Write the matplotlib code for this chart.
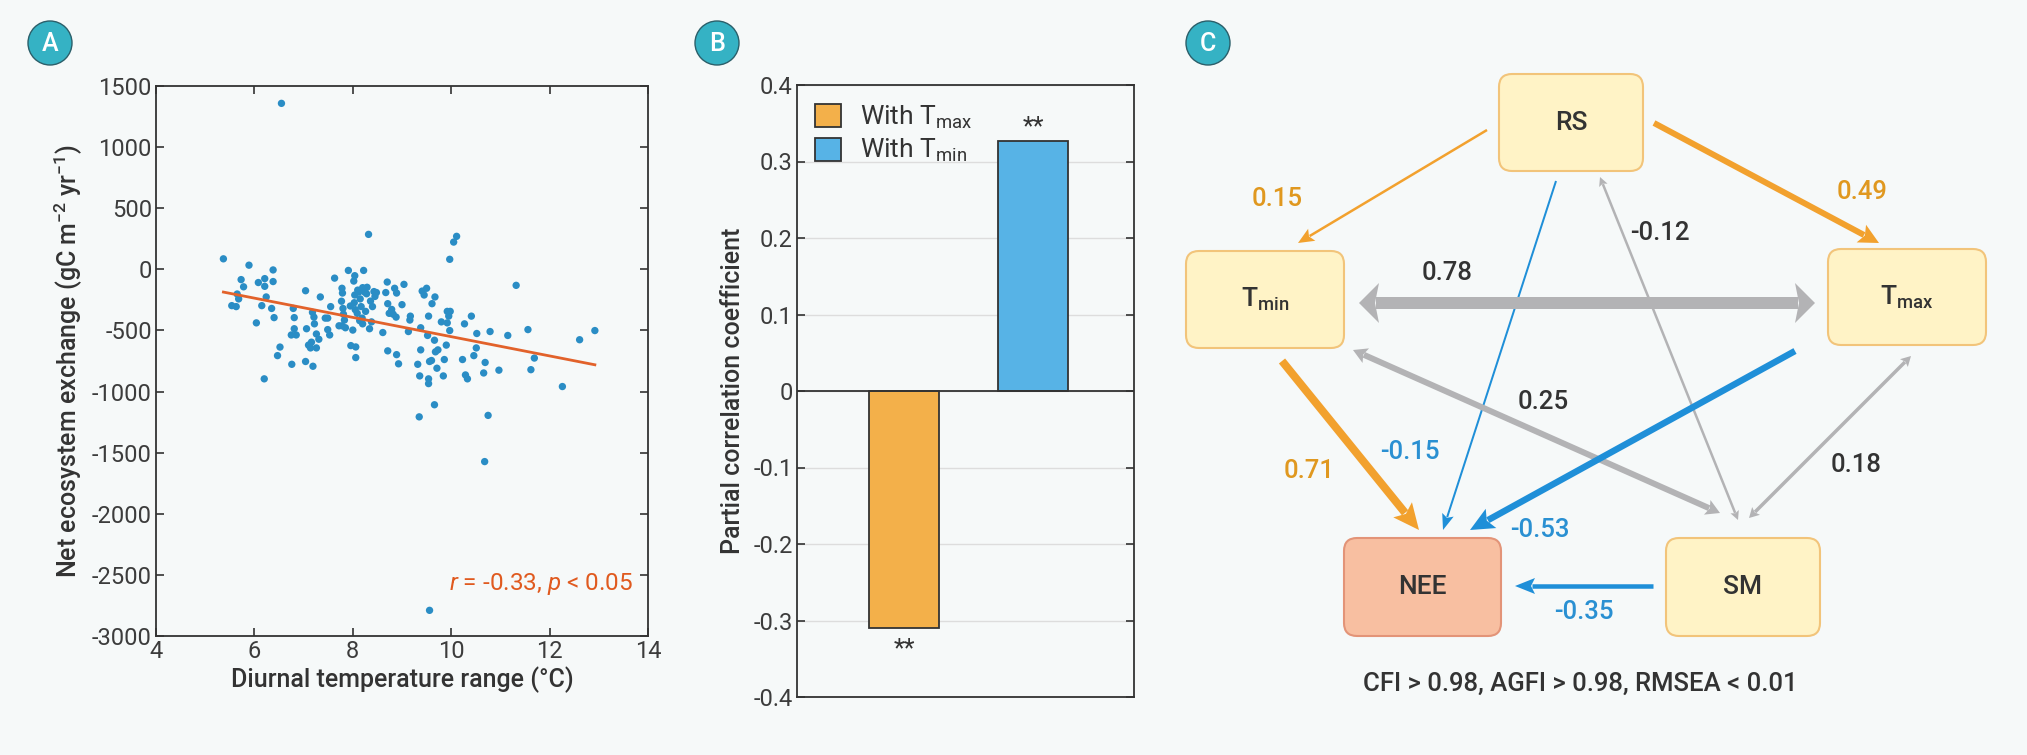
import numpy as np
import matplotlib
matplotlib.use("Agg")
import matplotlib.pyplot as plt
from matplotlib.patches import FancyBboxPatch, Circle

plt.rcParams['font.family'] = ['Roboto', 'DejaVu Sans']
plt.rcParams['mathtext.fontset'] = 'custom'
plt.rcParams['mathtext.rm'] = 'Roboto'
plt.rcParams['mathtext.it'] = 'Roboto:italic'
plt.rcParams['mathtext.default'] = 'regular'
plt.rcParams['axes.unicode_minus'] = False

# ---------------- data ----------------
# Panel A: diurnal temperature range (°C) vs NEE (gC m-2 yr-1)
dtr = [5.37, 6.55, 5.89, 5.73, 5.78, 5.65, 5.68, 5.54, 5.63, 6.08, 6.21, 6.21, 6.38, 6.38, 6.24,
       6.15, 6.35, 6.40, 6.04, 6.20, 6.52, 6.47, 6.76, 6.79, 6.81, 6.81, 6.75, 6.85, 7.04, 7.06,
       7.04, 7.10, 7.14, 7.18, 7.21, 7.22, 7.19, 7.16, 7.26, 7.26, 7.31, 7.34, 7.44, 7.49, 7.49,
       7.53, 7.55, 7.63, 7.72, 7.78, 7.79, 7.77, 7.80, 7.81, 7.83, 7.78, 7.85, 7.91, 7.96, 8.00,
       8.02, 8.04, 8.03, 8.04, 8.06, 8.06, 8.09, 8.12, 8.15, 8.17, 8.19, 8.20, 8.22, 8.24, 8.26,
       8.29, 8.32, 8.34, 8.38, 8.40, 8.43, 8.45, 8.61, 8.67, 8.70, 8.71, 8.71, 8.74, 8.79, 8.82,
       8.85, 8.89, 8.88, 8.89, 8.93, 9.00, 9.04, 9.13, 9.16, 9.17, 9.32, 9.35, 9.36, 9.38, 9.38,
       9.41, 9.45, 9.50, 9.52, 9.54, 9.54, 9.54, 9.56, 9.60, 9.61, 9.56, 9.67, 9.66, 9.66, 9.68,
       9.71, 9.73, 9.80, 9.84, 9.86, 9.90, 9.92, 9.95, 9.97, 9.98, 9.92, 9.97, 10.05, 10.11, 10.23,
       10.27, 10.29, 10.33, 10.41, 10.46, 10.51, 10.52, 10.66, 10.69, 10.68, 10.75, 10.79, 10.97,
       11.15, 11.32, 11.56, 11.62, 11.69, 12.26, 12.61, 12.92,
       8.10, 8.28, 8.36, 8.05, 8.48, 8.20, 8.14, 7.95]
nee = [86, 1358, 34, -84, -143, -202, -242, -297, -305, -108, -76, -139, -5, -100, -226,
       -297, -320, -395, -438, -896, -636, -706, -777, -320, -395, -486, -537, -537, -175, -486,
       -754, -620, -643, -352, -391, -446, -793, -596, -529, -643, -572, -226, -399, -399, -493,
       -537, -305, -72, -462, -155, -194, -261, -320, -367, -415, -462, -478, -9, -624, -497,
       -96, -52, -273, -210, -635, -722, -360, -186, -242, -305, -399, -446, -9, -186, -344,
       -147, 286, -486, -430, -305, -182, -222, -517, -190, -104, -281, -667, -360, -328, -367,
       -155, -194, -391, -698, -773, -289, -123, -509, -415, -383, -777, -1207, -872, -659, -478,
       -178, -210, -155, -541, -383, -896, -935, -754, -746, -281, -2790, -226, -580, -1108, -675,
       -809, -659, -430, -872, -738, -620, -344, -383, 82, -344, -438, -501, 223, 270, -738,
       -446, -864, -896, -383, -706, -643, -525, -848, -762, -1573, -1195, -509, -825,
       -541, -131, -493, -821, -726, -959, -576, -501,
       -170, -200, -260, -330, -190, -150, -420, -300]
fit_x = [5.37, 12.92]
fit_y = [-186, -781]

# Panel B
bar_labels = ['With T$_{max}$', 'With T$_{min}$']
bar_values = [-0.31, 0.327]
bar_sig = ['**', '**']

# Panel C: structural equation model
nodes = ['RS', 'T$_{min}$', 'T$_{max}$', 'NEE', 'SM']
path_from = ['RS', 'RS', 'RS', 'RS', 'Tmin', 'Tmin', 'Tmax', 'Tmin', 'Tmax', 'SM']
path_to = ['Tmin', 'Tmax', 'NEE', 'SM', 'Tmax', 'SM', 'SM', 'NEE', 'NEE', 'NEE']
path_coef = [0.15, 0.49, -0.15, -0.12, 0.78, 0.25, 0.18, 0.71, -0.53, -0.35]
path_kind = ['dir', 'dir', 'dir', 'cor', 'cor', 'cor', 'cor', 'dir', 'dir', 'dir']
fit_text = 'CFI > 0.98, AGFI > 0.98, RMSEA < 0.01'

# ---------------- style ----------------
BG = '#f6f9f9'
TXT = '#333333'
TICK = '#3c3c3c'
W, H = 2027, 755

fig = plt.figure(figsize=(W / 100, H / 100), dpi=100, facecolor=BG)

def frac(l, t, r, b):
    return [l / W, 1 - b / H, (r - l) / W, (b - t) / H]

# ---------------- Panel A ----------------
axA = fig.add_axes(frac(156, 86, 648, 636))
axA.set_facecolor(BG)
axA.scatter(dtr, nee, s=28, color='#2a8dc5', edgecolors='none', zorder=3)
axA.plot(fit_x, fit_y, color='#e2622b', lw=2.0, zorder=4)
axA.set_xlim(4, 14)
axA.set_ylim(-3000, 1500)
axA.set_xticks([4, 6, 8, 10, 12, 14])
axA.set_yticks(np.arange(-3000, 1501, 500))
axA.tick_params(direction='in', length=6, width=1.2, top=True, right=True,
                labelsize=17, labelcolor=TICK, color='#333333', pad=3)
for s in axA.spines.values():
    s.set_color('#333333'); s.set_linewidth(1.3)
axA.set_xlabel('Diurnal temperature range (°C)', fontsize=18, color=TXT,
               fontweight='medium', labelpad=2)
axA.set_ylabel('Net ecosystem exchange (gC m$^{-2}$ yr$^{-1}$)', fontsize=18,
               color=TXT, fontweight='medium', labelpad=6)
axA.text(0.97, 0.095, r'$\mathit{r}$ = -0.33, $\mathit{p}$ < 0.05', transform=axA.transAxes,
         ha='right', va='center', fontsize=17.5, color='#e05a1f')

# ---------------- Panel B ----------------
axB = fig.add_axes(frac(797, 85, 1134, 697))
axB.set_facecolor(BG)
bar_x = [0, 1]
bar_colors = ['#f3b04a', '#57b3e6']
for i in range(2):
    axB.bar(bar_x[i], bar_values[i], width=0.54, color=bar_colors[i],
            edgecolor='#333333', linewidth=1.3, label=bar_labels[i], zorder=3)
axB.set_xlim(-0.83, 1.78)
axB.set_ylim(-0.4, 0.4)
axB.set_yticks(np.round(np.arange(-0.4, 0.41, 0.1), 1))
axB.set_yticklabels(['-0.4', '-0.3', '-0.2', '-0.1', '0', '0.1', '0.2', '0.3', '0.4'])
axB.set_xticks([])
axB.grid(axis='y', color='#dddddd', lw=1.0, zorder=0)
axB.axhline(0, color='#333333', lw=1.3, zorder=4)
axB.tick_params(axis='y', direction='in', length=6, width=1.2, right=True,
                labelsize=17, labelcolor=TICK, color='#333333', pad=3)
for s in axB.spines.values():
    s.set_color('#333333'); s.set_linewidth(1.3)
axB.set_ylabel('Partial correlation coefficient', fontsize=18, color=TXT,
               fontweight='medium', labelpad=6)
for i in range(2):
    v = bar_values[i]
    if v > 0:
        axB.text(bar_x[i], v + 0.002, bar_sig[i], ha='center', va='bottom',
                 fontsize=18, color=TXT)
    else:
        axB.text(bar_x[i], v - 0.012, bar_sig[i], ha='center', va='top',
                 fontsize=18, color=TXT)
leg = axB.legend(loc='upper left', frameon=False, fontsize=19, handlelength=0.95,
                 handleheight=0.95, borderaxespad=0.3, labelspacing=0.25,
                 handletextpad=0.75, bbox_to_anchor=(0.0, 1.0))
for t in leg.get_texts():
    t.set_color(TXT)
for p in leg.get_patches():
    p.set_linewidth(1.3)

# ---------------- overlay: panel C + letters ----------------
ov = fig.add_axes([0, 0, 1, 1])
ov.set_xlim(0, W); ov.set_ylim(H, 0)
ov.axis('off')
ov.patch.set_alpha(0)

for (cx, cy, letter) in [(50, 43, 'A'), (717, 43, 'B'), (1208, 43, 'C')]:
    ov.add_patch(Circle((cx, cy), 22, facecolor='#35b2c4', edgecolor='#2b5f6a', lw=1.0))
    ov.text(cx, cy + 1, letter, ha='center', va='center', color='white',
            fontsize=18, fontweight='medium')

box = {  # left, top, right, bottom (pixels)
    'RS': (1499, 74, 1643, 171),
    'Tmin': (1186, 251, 1344, 348),
    'Tmax': (1828, 249, 1986, 345),
    'NEE': (1344, 538, 1501, 636),
    'SM': (1666, 538, 1820, 636),
}
node_keys = ['RS', 'Tmin', 'Tmax', 'NEE', 'SM']
for key, name in zip(node_keys, nodes):
    l, t, r, b = box[key]
    if key == 'NEE':
        fc, ec = '#f8bfa1', '#e39478'
    else:
        fc, ec = '#fff3c6', '#f2c47a'
    ov.add_patch(FancyBboxPatch((l, t), r - l, b - t,
                                boxstyle='round,pad=0,rounding_size=13',
                                facecolor=fc, edgecolor=ec, lw=1.5, zorder=2))
    ov.text((l + r) / 2, (t + b) / 2, name, ha='center', va='center',
            fontsize=19, color=TXT, fontweight='medium', zorder=5)

# arrow geometry (pixels): start, end, shaft width(px), head length, head width, label pos
geom = {
    ('RS', 'Tmin'): ((1487, 130), (1298, 243), 2.5, 16, 14, (1277, 199)),
    ('RS', 'Tmax'): ((1654, 123), (1879, 243), 6, 20, 20, (1862, 192)),
    ('RS', 'NEE'): ((1556, 181), (1443, 530), 2.0, 16, 12, (1410, 452)),
    ('RS', 'SM'): ((1738, 520), (1600, 177), 2.5, 9, 9, (1660, 233)),
    ('Tmin', 'Tmax'): ((1359, 303), (1815, 303), 12, 20, 40, (1447, 273)),
    ('Tmin', 'SM'): ((1353, 350), (1720, 513), 6, 14, 16, (1543, 402)),
    ('Tmax', 'SM'): ((1911, 356), (1749, 518), 3.5, 10, 11, (1856, 465)),
    ('Tmin', 'NEE'): ((1282, 361), (1419, 530), 8, 26, 24, (1309, 471)),
    ('Tmax', 'NEE'): ((1795, 351), (1470, 530), 6.5, 24, 22, (1540, 530)),
    ('SM', 'NEE'): ((1653, 586), (1515, 586), 4.5, 20, 16, (1584, 612)),
}

def draw_arrow(p0, p1, w, hl, hw, color, double):
    p0 = np.array(p0, float); p1 = np.array(p1, float)
    d = (p1 - p0) / np.linalg.norm(p1 - p0)
    q0 = p0 + d * hl * 0.85 if double else p0
    q1 = p1 - d * hl * 0.85
    ov.plot([q0[0], q1[0]], [q0[1], q1[1]], color=color, lw=w * 0.72,
            solid_capstyle='butt', zorder=3)
    ends = [(p1, d)] + ([(p0, -d)] if double else [])
    for tip, dd in ends:
        nn = np.array([-dd[1], dd[0]])
        base = tip - dd * hl
        notch = tip - dd * hl * 0.8
        pts = [tip, base + nn * hw / 2, notch, base - nn * hw / 2]
        ov.fill([p[0] for p in pts], [p[1] for p in pts], color=color, lw=0, zorder=3)

for f, t_, c, k in zip(path_from, path_to, path_coef, path_kind):
    p0, p1, w, hl, hw, lp = geom[(f, t_)]
    if k == 'cor':
        color, tcol = '#b3b3b5', TXT
    elif c > 0:
        color, tcol = '#f2a12e', '#e0981f'
    else:
        color, tcol = '#1f8fd8', '#2a90d2'
    draw_arrow(p0, p1, w, hl, hw, color, k == 'cor')
    ov.text(lp[0], lp[1], f'{c:.2f}', ha='center', va='center', fontsize=18.5,
            color=tcol, fontweight='medium', zorder=6)

ov.text(1580, 684, fit_text, ha='center', va='center', fontsize=18.5, color=TXT,
        fontweight='medium')

fig.savefig('out.png', dpi=100, facecolor=BG)
